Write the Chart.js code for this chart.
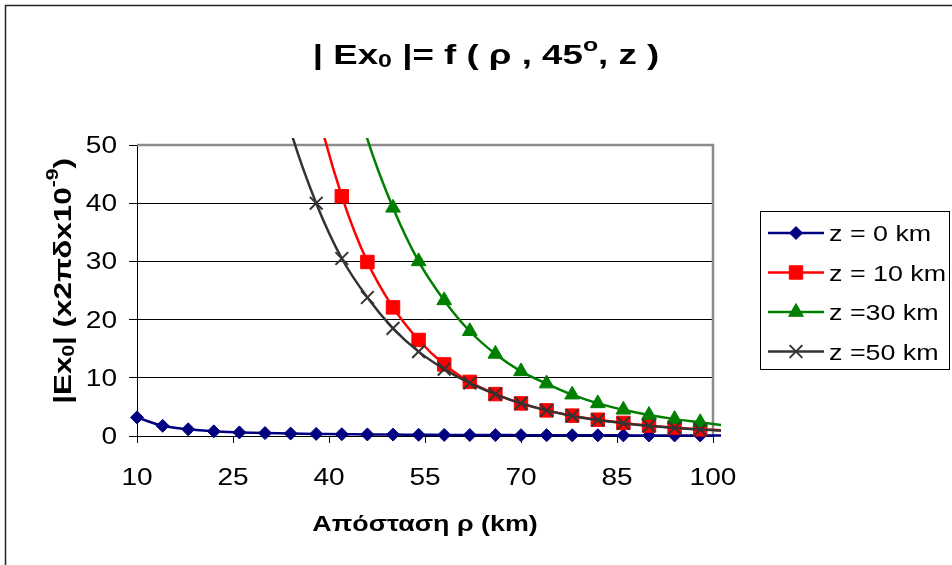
<!DOCTYPE html>
<html>
<head>
<meta charset="utf-8">
<script src="https://cdn.jsdelivr.net/npm/chart.js@4.4.1/dist/chart.umd.min.js"></script>
<style>
  body { margin: 0; background: #fff; }
  #wrap { width: 952px; height: 565px; }
</style>
</head>
<body>
<div id="wrap"><canvas id="chart" width="952" height="565"></canvas></div>
<script>
// distance rho (km) of the computed points
const rho  = [10, 14, 18, 22, 26, 30, 34, 38, 42, 46, 50, 54, 58, 62, 66, 70, 74, 78, 82, 86, 90, 94, 98, 102];
// |Ex0| for every height z (values above 50 are off the plot, only the curve end shows)
const ez0  = [3.2, 1.75, 1.15, 0.8, 0.62, 0.5, 0.42, 0.36, 0.31, 0.27, 0.24, 0.21, 0.19, 0.17, 0.16, 0.15, 0.14, 0.13, 0.12, 0.11, 0.1, 0.1, 0.09, 0.09];
const ez10 = [null, null, null, null, null, null, 80, 57, 41.2, 29.9, 22.1, 16.5, 12.3, 9.3, 7.2, 5.6, 4.4, 3.5, 2.8, 2.25, 1.8, 1.45, 1.15, 0.95];
const ez30 = [null, null, null, null, null, null, null, null, 67, 51, 39.2, 30, 23.3, 18, 14.1, 11.1, 9, 7.1, 5.6, 4.5, 3.6, 2.9, 2.35, 1.8];
const ez50 = [null, null, null, null, null, 70, 52.5, 40, 30.5, 23.8, 18.5, 14.5, 11.5, 9.1, 7.2, 5.6, 4.4, 3.45, 2.75, 2.2, 1.75, 1.4, 1.1, 0.9];

const xTicks = [10, 25, 40, 55, 70, 85, 100];
const yTicks = [0, 10, 20, 30, 40, 50];
const seriesNames = ['z = 0 km', 'z = 10 km', 'z =30 km', 'z =50 km'];

const FONT = "'Liberation Sans', Arial, sans-serif";
const SX = 1.22;      // the original text is drawn wider than a normal Arial
const SX_BOLD = 1.31; // titles are even wider

function toPoints(values) {
    return rho.map((x, i) => ({ x: x, y: values[i] })).filter(p => p.y !== null);
}

// hide markers that fall outside the axes
const markerSize = (r) => (c) => (c.raw && (c.raw.x > 100 || c.raw.y > 50)) ? 0 : r;

// text pieces on one baseline, stretched like the original
function richText(ctx, parts, x, y, align, sx) {
    sx = sx || SX;
    let w = 0;
    parts.forEach(p => { ctx.font = p.font; p.w = ctx.measureText(p.t).width; w += p.w; });
    ctx.save();
    ctx.translate(x, y);
    ctx.scale(sx, 1);
    ctx.textAlign = 'left';
    ctx.textBaseline = 'alphabetic';
    ctx.fillStyle = '#000';
    let cx = align === 'center' ? -w / 2 : (align === 'right' ? -w : 0);
    parts.forEach(p => {
        ctx.font = p.font;
        ctx.fillText(p.t, cx, p.dy || 0);
        cx += p.w;
    });
    ctx.restore();
}

const series = [
    { name: seriesNames[0], data: ez0,  color: '#000080', style: 'rectRot',  r: 6.5, bw: 1, order: 4 },
    { name: seriesNames[1], data: ez10, color: '#ff0000', style: 'rect',     r: 9.5, bw: 1, order: 3 },
    { name: seriesNames[2], data: ez30, color: '#008000', style: 'triangle', r: 8.5, bw: 1, order: 2 },
    { name: seriesNames[3], data: ez50, color: '#333333', style: 'crossRot', r: 9,   bw: 2, order: 1 }
];

const frame = {
    id: 'frame',
    beforeDatasetsDraw(chart) {
        const ctx = chart.ctx;
        const a = chart.chartArea;
        ctx.save();
        ctx.strokeStyle = '#8c8c8c';
        ctx.lineWidth = 2.5;
        ctx.beginPath();
        ctx.moveTo(a.left, a.top);
        ctx.lineTo(a.right, a.top);
        ctx.lineTo(a.right, a.bottom);
        ctx.stroke();
        ctx.restore();
    },
    afterDraw(chart) {
        const ctx = chart.ctx;
        const xs = chart.scales.x;
        const ys = chart.scales.y;
        const a = chart.chartArea;

        // outer chart border (right and bottom edges are off the picture)
        ctx.save();
        ctx.strokeStyle = '#222';
        ctx.lineWidth = 1.5;
        ctx.strokeRect(5.5, 5.5, 1000, 1000);
        ctx.restore();

        // tick labels
        const tickFont = '23px ' + FONT;
        xTicks.forEach(v => richText(ctx, [{ t: String(v), font: tickFont }], xs.getPixelForValue(v), 485, 'center'));
        yTicks.forEach(v => richText(ctx, [{ t: String(v), font: tickFont }], 117, ys.getPixelForValue(v) + 8, 'right'));

        // title
        const tb = 'bold 28px ' + FONT;
        const ts = 'bold 19px ' + FONT;
        richText(ctx, [
            { t: '| Ex', font: tb },
            { t: '0', font: ts, dy: 3 },
            { t: ' |= f ( ρ , 45', font: tb },
            { t: 'o', font: ts, dy: -13 },
            { t: ', z )', font: tb }
        ], 486, 64, 'center', SX_BOLD);

        // x axis title
        richText(ctx, [{ t: 'Απόσταση ρ (km)', font: 'bold 22px ' + FONT }], (a.left + a.right) / 2, 531, 'center');

        // y axis title, rotated
        const yb = 'bold 24px ' + FONT;
        const ysm = 'bold 16px ' + FONT;
        ctx.save();
        ctx.translate(71, 281);
        ctx.rotate(-Math.PI / 2);
        richText(ctx, [
            { t: '|Ex', font: yb },
            { t: '0', font: ysm, dy: 3 },
            { t: '| (x2πδx10', font: yb },
            { t: '-9', font: ysm, dy: -13 },
            { t: ')', font: yb }
        ], 0, 0, 'center', SX_BOLD);
        ctx.restore();

        // legend
        ctx.save();
        ctx.strokeStyle = '#000';
        ctx.lineWidth = 1;
        ctx.strokeRect(760.5, 211.5, 189, 158);
        series.forEach((s, i) => {
            const y = 233 + i * 39.5;
            ctx.strokeStyle = s.color;
            ctx.fillStyle = s.color;
            ctx.lineWidth = 2.5;
            ctx.beginPath();
            ctx.moveTo(768, y);
            ctx.lineTo(824, y);
            ctx.stroke();
            ctx.lineWidth = s.bw;
            Chart.helpers.drawPoint(ctx, { pointStyle: s.style, radius: s.r, rotation: 0, borderWidth: s.bw }, 796, y);
            richText(ctx, [{ t: s.name, font: '22px ' + FONT }], 829, y + 8, 'left');
        });
        ctx.restore();
    }
};

const ctx = document.getElementById('chart').getContext('2d');

new Chart(ctx, {
    type: 'line',
    data: {
        datasets: series.map(s => ({
            label: s.name,
            data: toPoints(s.data),
            borderColor: s.color,
            backgroundColor: s.color,
            borderWidth: 2.5,
            pointStyle: s.style,
            pointRadius: markerSize(s.r),
            pointHoverRadius: markerSize(s.r),
            pointBorderWidth: s.bw,
            pointBackgroundColor: s.color,
            pointBorderColor: s.color,
            tension: 0.35,
            order: s.order,
            clip: { left: 10, top: 7, right: 8, bottom: 10 }
        }))
    },
    options: {
        responsive: false,
        animation: false,
        layout: { padding: { left: 0, right: 239, top: 145, bottom: 0 } },
        elements: { line: { capBezierPoints: false } },
        plugins: {
            legend: { display: false },
            tooltip: { enabled: false },
            title: { display: false }
        },
        scales: {
            x: {
                type: 'linear',
                min: 10,
                max: 100,
                afterBuildTicks: s => { s.ticks = xTicks.map(v => ({ value: v })); },
                afterFit: s => { s.height = 129; },
                ticks: { display: false },
                grid: { drawOnChartArea: false, drawTicks: true, tickLength: 7, color: '#000', tickColor: '#000' },
                border: { color: '#000', width: 1 }
            },
            y: {
                type: 'linear',
                min: 0,
                max: 50,
                afterBuildTicks: s => { s.ticks = yTicks.map(v => ({ value: v })); },
                afterFit: s => { s.width = 137; },
                ticks: { display: false },
                grid: {
                    color: c => (c.tick && c.tick.value === 50) ? 'rgba(0,0,0,0)' : '#000',
                    tickColor: '#000',
                    tickLength: 8,
                    lineWidth: 1
                },
                border: { color: '#000', width: 1 }
            }
        }
    },
    plugins: [frame]
});
</script>
</body>
</html>
